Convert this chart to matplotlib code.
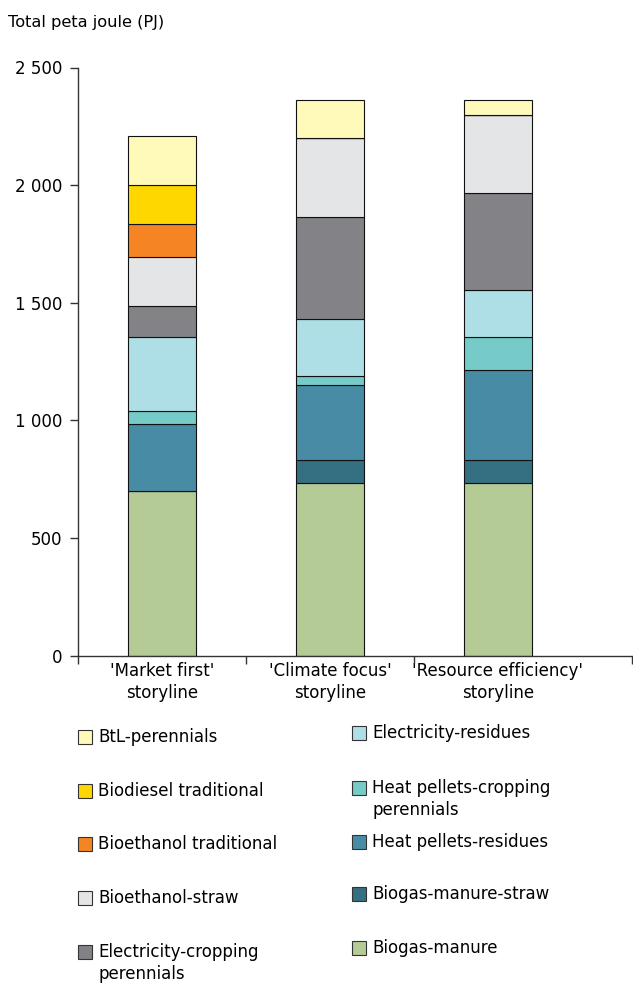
import matplotlib.pyplot as plt
from matplotlib.patches import Rectangle
from matplotlib.ticker import FuncFormatter
import numpy as np

plt.rcParams['font.family'] = ['DejaVu Sans']

storylines = ["'Market first'\nstoryline", "'Climate focus'\nstoryline",
              "'Resource efficiency'\nstoryline"]

# stacking order, bottom to top
series = ["Biogas-manure", "Biogas-manure-straw", "Heat pellets-residues",
          "Heat pellets-cropping\nperennials", "Electricity-residues",
          "Electricity-cropping\nperennials", "Bioethanol-straw",
          "Bioethanol traditional", "Biodiesel traditional", "BtL-perennials"]

biogas_manure = [700, 735, 735]
biogas_manure_straw = [0, 95, 95]
heat_pellets_residues = [285, 320, 385]
heat_pellets_cropping = [55, 40, 140]
electricity_residues = [315, 240, 200]
electricity_cropping = [130, 435, 410]
bioethanol_straw = [210, 335, 335]
bioethanol_traditional = [140, 0, 0]
biodiesel_traditional = [165, 0, 0]
btl_perennials = [210, 160, 60]

values = [biogas_manure, biogas_manure_straw, heat_pellets_residues,
          heat_pellets_cropping, electricity_residues, electricity_cropping,
          bioethanol_straw, bioethanol_traditional, biodiesel_traditional,
          btl_perennials]

colors = ['#b5cb96', '#346f82', '#478ca4', '#76cbc8', '#aedfe6',
          '#838387', '#e4e5e7', '#f58522', '#ffd700', '#fff9ba']

W, H = 633, 983
fig = plt.figure(figsize=(W / 100, H / 100), dpi=100)
ax = fig.add_axes([78 / W, 1 - 655.7 / H, (632 - 78) / W, (655.7 - 67.5) / H])

x = np.arange(len(storylines))
bottom = np.zeros(len(storylines))
for vals, col in zip(values, colors):
    vals = np.array(vals, dtype=float)
    ax.bar(x, vals, width=0.405, bottom=bottom, color=col,
           edgecolor='#111111', linewidth=0.8, zorder=2)
    bottom += vals

ax.set_xlim(-0.5, 2.798)
ax.set_ylim(0, 2500)
ax.set_yticks(np.arange(0, 2501, 500))
ax.yaxis.set_major_formatter(FuncFormatter(lambda v, p: f"{int(v):,}".replace(",", " ")))
ax.set_xticks(x)
ax.set_xticklabels(storylines, fontsize=12, linespacing=1.3)
ax.set_xticks([-0.5, 0.5, 1.5, 2.798], minor=True)
ax.tick_params(axis='x', which='major', length=0, pad=4.5)
ax.tick_params(axis='x', which='minor', length=6, width=1, color='#333333')
ax.tick_params(axis='y', length=6, width=1, color='#333333', labelsize=12, pad=5)

for s in ['top', 'right']:
    ax.spines[s].set_visible(False)
for s in ['left', 'bottom']:
    ax.spines[s].set_color('#333333')
    ax.spines[s].set_linewidth(1)

fig.text(8 / W, 1 - 22 / H, "Total peta joule (PJ)", fontsize=11.7, va='center', ha='left')

# legend, drawn by hand in two columns
left_col = ["BtL-perennials", "Biodiesel traditional", "Bioethanol traditional",
            "Bioethanol-straw", "Electricity-cropping\nperennials"]
right_col = ["Electricity-residues", "Heat pellets-cropping\nperennials",
             "Heat pellets-residues", "Biogas-manure-straw", "Biogas-manure"]
left_y = [737, 790.7, 844.3, 898.3, 952.3]
right_y = [733.3, 788.3, 841.7, 894.3, 948.3]

def legend_col(labels, ys, xm):
    for lab, yy in zip(labels, ys):
        col = colors[series.index(lab)]
        fig.add_artist(Rectangle((xm / W, 1 - (yy + 7) / H), 14 / W, 14 / H,
                                 transform=fig.transFigure, facecolor=col,
                                 edgecolor='#333333', linewidth=0.8))
        fig.text((xm + 20) / W, 1 - (yy - 9) / H, lab, fontsize=12, va='top',
                 ha='left', linespacing=1.25)

legend_col(left_col, left_y, 78)
legend_col(right_col, right_y, 352)

fig.savefig('out.png', dpi=100)
